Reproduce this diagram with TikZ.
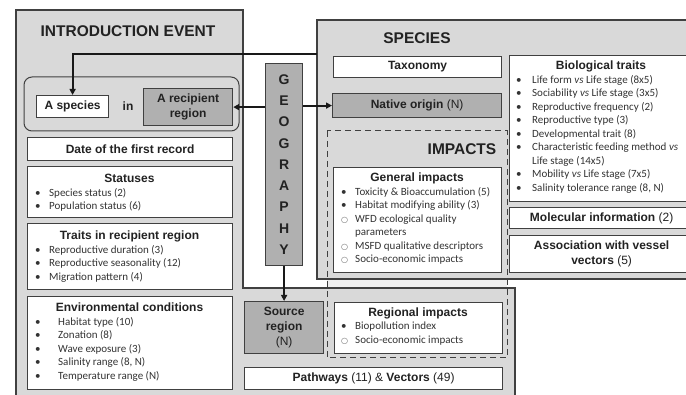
\documentclass[tikz,border=0pt]{standalone}
\usepackage{fontspec}
\setmainfont{Liberation Sans}
\newfontfamily\itemfont{Carlito}
\newfontfamily\symfont{DejaVu Sans}
\usetikzlibrary{arrows.meta,positioning}
\definecolor{lineC}{HTML}{404040}
\definecolor{paneC}{HTML}{D9D9D9}
\definecolor{stripC}{HTML}{EFEFEF}
\definecolor{geoC}{HTML}{B0B0B0}
\definecolor{txtC}{HTML}{222222}
\definecolor{itemC}{HTML}{333333}

% bullets for the lists
\newcommand\bl[1][14pt]{\makebox[#1][l]{•}}
\newcommand\cl[1][14pt]{\makebox[#1][l]{\textcolor{itemC!75}{\symfont\fontsize{8}{8}\selectfont ○}}}

\begin{document}
\begin{tikzpicture}[x=1pt,y=-1pt,
  box/.style={draw=lineC,line width=1.2pt,fill=white,anchor=north west,inner sep=0pt},
  geobox/.style={box,fill=geoC},
  ttl/.style={font=\bfseries\fontsize{12}{14}\selectfont,text=txtC,inner sep=0pt},
  big/.style={font=\bfseries\fontsize{15.5}{18}\selectfont,text=txtC,inner sep=0pt},
  lbl/.style={font=\fontsize{12}{15}\selectfont,text=txtC,align=center},
  lst/.style={anchor=north west,align=left,inner sep=0pt,text=itemC,font=\itemfont\fontsize{11}{13.5}\selectfont},
  arr/.style={draw=black!90,line width=2pt,-{Triangle[length=6pt,width=6pt]}}]
\fill[white] (0,0) rectangle (686,395);
\useasboundingbox (0,0) rectangle (686,395);
\clip (0,0) rectangle (686,395);

% impacts area shows through only between the panes
\fill[stripC] (327,131) rectangle (507,358);

% the two panes
\draw[draw=lineC,line width=1.2pt,fill=paneC] (16,400) -- (16,10) -- (243,10) -- (243,288) -- (515,288) -- (515,400);
\draw[draw=lineC,line width=1.2pt,fill=paneC] (317,20) rectangle (700,279);

\node[big] (intro) at (128,31) {INTRODUCTION EVENT};
\node[big] (spec) at (417,38) {SPECIES};

% introduction event
\draw[lineC,line width=1pt,rounded corners=8pt] (24,77) rectangle (239,131);
\node[box,minimum width=72,minimum height=22,lbl] (asp) at (36,95) {\textbf{A species}};
\node[lbl] (in) at (128,106) {\textbf{in}};
\node[geobox,minimum width=89,minimum height=37,lbl] (rec) at (143,88) {\textbf{A recipient}\\\textbf{region}};
\node[box,minimum width=205,minimum height=23,lbl] (date) at (27,137) {\textbf{Date of the first record}};

\node[box,minimum width=205,minimum height=51] (stat) at (27,166) {};
\node[ttl] (statT) at (129.5,178) {Statuses};
\node[lst] (statL) at (35,188) {\bl Species status (2)\\\bl Population status (6)};

\node[box,minimum width=205,minimum height=66] (trt) at (27,223) {};
\node[ttl] (trtT) at (129.5,236) {Traits in recipient region};
\node[lst] (trtL) at (35,245) {\bl Reproductive duration (3)\\\bl Reproductive seasonality (12)\\\bl Migration pattern (4)};

\node[box,minimum width=205,minimum height=93] (env) at (27,296) {};
\node[ttl] (envT) at (129.5,307) {Environmental conditions};
\node[lst] (envL) at (35,317) {\bl[23pt]Habitat type (10)\\\bl[23pt]Zonation (8)\\\bl[23pt]Wave exposure (3)\\\bl[23pt]Salinity range (8, N)\\\bl[23pt]Temperature range (N)};

% geography
\node[geobox,minimum width=37,minimum height=202,align=center,font=\bfseries\fontsize{14}{21.25}\selectfont,text=txtC] (geo) at (265,63) {G\\E\\O\\G\\R\\A\\P\\H\\Y};

% species
\node[box,minimum width=168,minimum height=21,lbl] (tax) at (333,56) {\textbf{Taxonomy}};
\node[geobox,minimum width=169,minimum height=24,lbl] (nat) at (332,93) {\textbf{Native origin} (N)};

\node[box,minimum width=184,minimum height=146] (bio) at (509,55) {};
\node[ttl] (bioT) at (601,66) {Biological traits};
\node[lst] (bioL) at (516,75) {\bl[16pt]Life form \textit{vs} Life stage (8x5)\\\bl[16pt]Sociability \textit{vs} Life stage (3x5)\\\bl[16pt]Reproductive frequency (2)\\\bl[16pt]Reproductive type (3)\\\bl[16pt]Developmental trait (8)\\\bl[16pt]Characteristic feeding method \textit{vs}\\\hspace*{16pt}Life stage (14x5)\\\bl[16pt]Mobility \textit{vs} Life stage (7x5)\\\bl[16pt]Salinity tolerance range (8, N)};
\node[box,minimum width=184,minimum height=21,lbl] (mol) at (509,207) {\textbf{Molecular information} (2)};
\node[box,minimum width=184,minimum height=37,lbl] (ves) at (509,235) {\textbf{Association with vessel}\\\textbf{vectors} (5)};

% impacts
\draw[lineC,line width=1pt,dash pattern=on 6pt off 4pt] (327,131) rectangle (507,358);
\node[big] (imp) at (462,149) {IMPACTS};
\node[box,minimum width=168,minimum height=105] (gen) at (333,167) {};
\node[ttl] (genT) at (417,178) {General impacts};
\node[lst] (genL) at (341,187) {\bl Toxicity \& Bioaccumulation (5)\\\bl Habitat modifying ability (3)\\\cl WFD ecological quality\\\hspace*{14pt}parameters\\\cl MSFD qualitative descriptors\\\cl Socio-economic impacts};

\node[geobox,minimum width=79,minimum height=52,lbl] (src) at (244,301) {\textbf{Source}\\\textbf{region}\\(N)};
\node[box,minimum width=168,minimum height=51] (reg) at (334,302) {};
\node[ttl] (regT) at (418,313) {Regional impacts};
\node[lst] (regL) at (341,322) {\bl Biopollution index\\\cl Socio-economic impacts};
\node[box,minimum width=258,minimum height=22,lbl] (path) at (244,367) {\textbf{Pathways} (11) \& \textbf{Vectors} (49)};

% links
\coordinate (spcw) at (317,54);
\draw[arr] (spcw) -| (asp.north);
\draw[arr] (geo.west |- rec.east) -- (rec.east);
\draw[arr] (geo.east |- nat.west) -- (nat.west);
\draw[arr] (geo.south) -- (src.north);
\end{tikzpicture}
\end{document}
